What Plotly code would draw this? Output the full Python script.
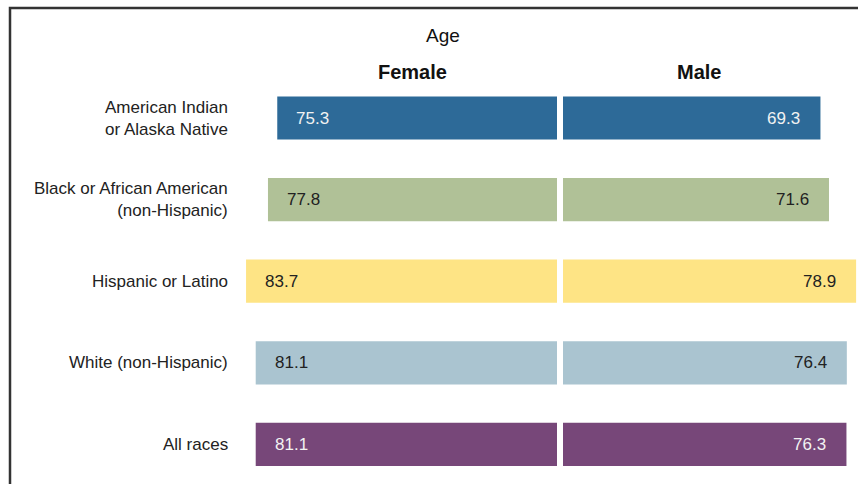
import plotly.graph_objects as go

W, H = 858, 484

races = ["American Indian<br>or Alaska Native", "Black or African American<br>(non-Hispanic)",
         "Hispanic or Latino", "White (non-Hispanic)", "All races"]
female = [75.3, 77.8, 83.7, 81.1, 81.1]
male = [69.3, 71.6, 78.9, 76.4, 76.3]
colors = ["#2D6A98", "#B0C197", "#FEE485", "#AAC4D0", "#774779"]
text_colors = ["#F2F2F2", "#222222", "#222222", "#222222", "#F2F2F2"]

font = "Liberation Sans, Arial, sans-serif"
px_per_unit = 3.715

def px(x):
  return x / W

fig = go.Figure()
fig.add_bar(y=races, x=female, orientation="h", marker_color=colors, marker_line_width=0,
            width=0.53, xaxis="x", yaxis="y", hoverinfo="x+y", showlegend=False)
fig.add_bar(y=races, x=male, orientation="h", marker_color=colors, marker_line_width=0,
            width=0.53, xaxis="x2", yaxis="y", hoverinfo="x+y", showlegend=False)

f_left, f_right = 240, 557
m_left, m_right = 563, W

annotations = []
for i, r in enumerate(races):
  # row labels
  annotations.append(dict(x=px(230), xref="paper", y=r, yref="y", text=r, showarrow=False,
                          xanchor="right", align="right", font=dict(size=17, color="#222222")))
  annotations.append(dict(x=female[i], xref="x", y=r, yref="y", text=f"{female[i]:.1f}",
                          showarrow=False, xanchor="left", xshift=17,
                          font=dict(size=17, color=text_colors[i])))
  annotations.append(dict(x=male[i], xref="x2", y=r, yref="y", text=f"{male[i]:.1f}",
                          showarrow=False, xanchor="right", xshift=-18,
                          font=dict(size=17, color=text_colors[i])))

headers = [("Age", 443, 35, 19), ("<b>Female</b>", 412, 72, 20), ("<b>Male</b>", 699, 72, 20)]
for txt, hx, hy, size in headers:
  annotations.append(dict(x=px(hx), y=1 - hy / H, xref="paper", yref="paper", text=txt,
                          xanchor="center", yanchor="middle", showarrow=False,
                          font=dict(size=size, color="#111111")))

row_top, row_step = 118, 81.6
fig.update_layout(
  width=W, height=H,
  margin=dict(l=0, r=0, t=0, b=0),
  paper_bgcolor="white", plot_bgcolor="white",
  font=dict(family=font, size=17, color="#222222"),
  xaxis=dict(domain=[px(f_left), px(f_right)],
             range=[(f_right - f_left) / px_per_unit, 0], visible=False, fixedrange=True),
  xaxis2=dict(domain=[px(m_left), px(m_right)],
              range=[0, (m_right - m_left) / px_per_unit], visible=False, fixedrange=True),
  yaxis=dict(domain=[0, 1], type="category", categoryorder="array", categoryarray=races,
             range=[(H - row_top) / row_step, -row_top / row_step], visible=False, fixedrange=True),
  annotations=annotations,
  shapes=[dict(type="path", xref="paper", yref="paper",
               path=f"M {px(10)} 0 L {px(10)} {1 - 8 / H} L 1.01 {1 - 8 / H}",
               line=dict(color="#333333", width=2.5))],
)

# page has a default 8px body margin, drop it so the chart sits at the corner
fig.write_html("out.html", config={"displayModeBar": False},
               post_script="document.body.style.margin='0';")
